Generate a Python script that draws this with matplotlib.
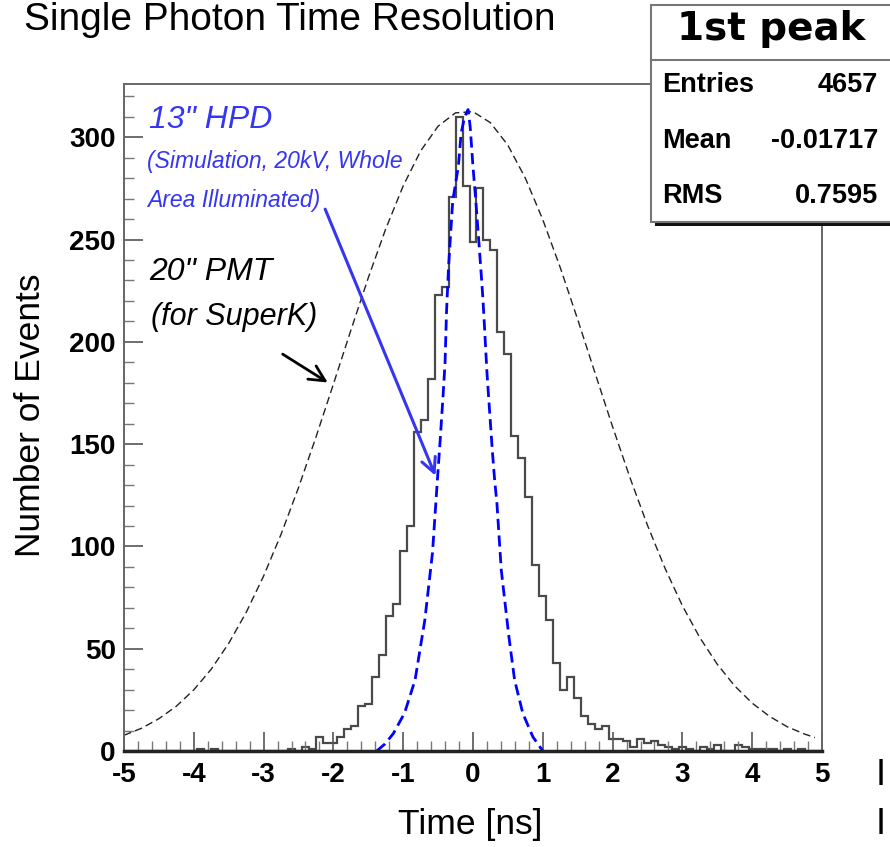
import numpy as np
import matplotlib
matplotlib.use('Agg')
import matplotlib.pyplot as plt
from matplotlib.patches import Rectangle
from matplotlib.ticker import MultipleLocator

# measured single photon arrival times, 0.1 ns bins centred on -5.0 ... 5.0
hist_edges = np.linspace(-5.05, 5.05, 102)
hist_counts = [
    0, 0, 0, 0, 0, 0, 0, 0, 0, 0,            # -5.0 .. -4.1
    0, 1, 0, 1, 0, 0, 0, 0, 0, 0,            # -4.0 .. -3.1
    0, 0, 0, 0, 1, 0, 2, 1, 7, 4,            # -3.0 .. -2.1
    4, 7, 11, 12, 22, 23, 36, 47, 66, 72,    # -2.0 .. -1.1
    98, 110, 156, 162, 182, 223, 227, 271, 310, 276,  # -1.0 .. -0.1
    249, 275, 250, 245, 205, 194, 154, 143, 124, 91,  # 0.0 .. 0.9
    76, 64, 43, 30, 36, 26, 17, 13, 11, 12,  # 1.0 .. 1.9
    6, 6, 5, 2, 6, 4, 5, 3, 2, 1,            # 2.0 .. 2.9
    2, 1, 0, 2, 1, 3, 0, 0, 3, 2,            # 3.0 .. 3.9
    1, 1, 1, 1, 0, 1, 0, 1, 0, 0,            # 4.0 .. 4.9
    0,                                       # 5.0
]

# 20" PMT response (black dashed)
pmt_t = [-5.0, -4.75, -4.5, -4.25, -4.0, -3.75, -3.5, -3.25, -3.0, -2.75,
         -2.5, -2.25, -2.0, -1.75, -1.5, -1.25, -1.0, -0.75, -0.5, -0.25,
         0.0, 0.25, 0.5, 0.75, 1.0, 1.25, 1.5, 1.75, 2.0, 2.25,
         2.5, 2.75, 3.0, 3.25, 3.5, 3.75, 4.0, 4.25, 4.5, 4.75, 4.9]
pmt_n = [7.7, 11.1, 15.8, 21.9, 29.9, 40.0, 52.6, 67.7, 85.5, 105.9,
         128.7, 153.4, 179.3, 205.6, 231.3, 255.2, 276.2, 293.3, 305.4, 311.9,
         312.5, 307.1, 296.1, 280.0, 259.7, 236.3, 210.9, 184.6, 158.5, 133.5,
         110.3, 89.4, 71.0, 55.4, 42.4, 31.8, 23.4, 16.9, 11.9, 8.3, 6.6]

# 13" HPD simulation (blue dashed)
hpd_t = [-1.38, -1.26, -1.14, -0.98, -0.83, -0.69, -0.58, -0.51, -0.47, -0.43,
         -0.40, -0.38, -0.35, -0.32, -0.29, -0.21, -0.17, -0.12, -0.07,
         -0.04, 0.0, 0.04, 0.086, 0.12, 0.143, 0.167, 0.20, 0.24, 0.28,
         0.31, 0.343, 0.405, 0.514, 0.596, 0.714, 0.857, 1.0]
hpd_n = [0.0, 3.5, 8.6, 18.6, 34.7, 64.0, 97.0, 132.5, 152.0, 173.0,
         190.0, 214.0, 236.7, 253.0, 269.0, 285.6, 302.0, 310.0, 313.5,
         305.0, 285.6, 269.0, 248.0, 232.0, 220.5, 206.0, 185.0, 165.0, 145.5,
         132.5, 121.0, 88.5, 56.0, 34.7, 18.4, 7.0, 0.0]

x_ticks = [-5, -4, -3, -2, -1, 0, 1, 2, 3, 4, 5]
x_tick_labels = ['-5', '-4', '-3', '-2', '-1', '0', '1', '2', '3', '4', '5']
y_ticks = [0, 50, 100, 150, 200, 250, 300]
y_tick_labels = ['0', '50', '100', '150', '200', '250', '300']

stats_rows = ['Entries', 'Mean', 'RMS']
stats_vals = ['4657', '-0.01717', '0.7595']

arial = 'Liberation Sans'
blue_txt = '#3535f2'

fig = plt.figure(figsize=(8.9, 8.47), dpi=100)
ax = fig.add_axes([0.1393, 0.1133, 0.7843, 0.7875])

ax.stairs(hist_counts, hist_edges, color='#4a4a4a', lw=1.6)
ax.plot(pmt_t, pmt_n, color='#222222', lw=1.0, ls=(0, (5.5, 3)))
ax.plot(hpd_t, hpd_n, color='#0000ff', lw=2.0, ls=(0, (4, 2)))

ax.set_xlim(-5, 5)
ax.set_ylim(0, 326)
ax.set_xticks(x_ticks)
ax.set_xticklabels(x_tick_labels)
ax.set_yticks(y_ticks)
ax.set_yticklabels(y_tick_labels)
ax.xaxis.set_minor_locator(MultipleLocator(0.2))
ax.yaxis.set_minor_locator(MultipleLocator(10))
ax.tick_params(which='major', direction='in', length=14, width=1.2, color='#555555',
               labelsize=20, pad=6)
ax.tick_params(which='minor', direction='in', length=7, width=1.0, color='#777777')
ax.tick_params(axis='x', which='major', pad=8)
for lbl in ax.get_xticklabels() + ax.get_yticklabels():
    lbl.set_fontweight('bold')
    lbl.set_family(arial)

for side in ['left', 'top', 'right']:
    ax.spines[side].set_color('#666666')
    ax.spines[side].set_linewidth(1.4)
ax.spines['bottom'].set_color('#222222')
ax.spines['bottom'].set_linewidth(2.5)

# annotations
ax.text(-4.647, 304.4, '13" HPD', color=blue_txt, fontsize=23, style='italic', family=arial)
ax.text(-4.666, 284.8, '(Simulation, 20kV, Whole', color=blue_txt, fontsize=16.5,
        style='italic', family=arial)
ax.text(-4.666, 266.1, 'Area Illuminated)', color=blue_txt, fontsize=16.5,
        style='italic', family=arial)
ax.text(-4.643, 230.2, '20" PMT', color='black', fontsize=23, style='italic', family=arial)
ax.text(-4.62, 208.2, '(for SuperK)', color='black', fontsize=22, style='italic', family=arial)

ax.annotate('', xy=(-0.523, 133.3), xytext=(-2.133, 266.1),
            arrowprops=dict(arrowstyle='->', color=blue_txt, lw=2.2, mutation_scale=26))
ax.annotate('', xy=(-2.047, 179.4), xytext=(-2.76, 194.7),
            arrowprops=dict(arrowstyle='->', color='black', lw=2.0, mutation_scale=28))

# labels and title (slide text)
fig.text(24 / 890, 1 - 30 / 847, 'Single Photon Time Resolution', fontsize=28,
         family=arial, va='baseline', ha='left')
fig.text(0.528, 0.026, 'Time [ns]', fontsize=25.5, family=arial, ha='center', va='center')
fig.text(0.034, 0.51, 'Number of Events', fontsize=25.5, family=arial, rotation=90,
         ha='center', va='center')

# stats box
fig.patches.append(Rectangle((655 / 890, 1 - 226 / 847), 0.4, 221 / 847,
                             transform=fig.transFigure, facecolor='#111111',
                             edgecolor='none', zorder=5))
fig.patches.append(Rectangle((650.7 / 890, 1 - 221.7 / 847), 0.4, 216.7 / 847,
                             transform=fig.transFigure, facecolor='white',
                             edgecolor='#777777', lw=1.5, zorder=6))
fig.lines.append(plt.Line2D([650.7 / 890, 1.0], [1 - 60 / 847, 1 - 60 / 847],
                            transform=fig.transFigure, color='#777777', lw=1.5, zorder=7))
fig.text(771.5 / 890, 1 - 40 / 847, '1st peak', fontsize=28, fontweight='bold',
         family='DejaVu Sans', ha='center', va='baseline', zorder=8)
row_base = [91.7, 148.3, 203.3]
for name, val, yb in zip(stats_rows, stats_vals, row_base):
    fig.text(661.7 / 890, 1 - yb / 847, name, fontsize=19.5, fontweight='bold',
             family=arial, va='baseline', ha='left', zorder=8)
    fig.text(878.3 / 890, 1 - yb / 847, val, fontsize=19.5, fontweight='bold',
             family=arial, va='baseline', ha='right', zorder=8)

# cut-off letters of neighbouring slide text on the right edge
fig.text(876 / 890, 1 - 785 / 847, 'I', fontsize=26, family=arial, va='baseline')
fig.text(876 / 890, 1 - 834 / 847, 'I', fontsize=26, family=arial, va='baseline')

fig.savefig('out.png', dpi=100)
